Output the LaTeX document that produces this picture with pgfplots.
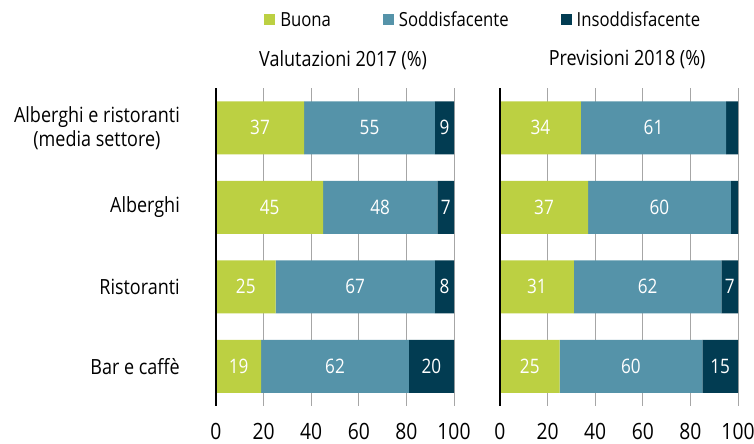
\documentclass[border=0pt]{standalone}
\usepackage{fontspec}
\setmainfont{Open Sans}[FakeStretch=0.86]
\usepackage{pgfplots}
\pgfplotsset{compat=1.18}
\definecolor{cGreen}{HTML}{BCD042}
\definecolor{cTeal}{HTML}{5593A9}
\definecolor{cDark}{HTML}{023C52}
\definecolor{cGrid}{HTML}{A6A6A6}
\pgfplotsset{
  panel/.style={
    scale only axis, width=238bp, height=318bp,
    xmin=0, xmax=100, ymin=-0.5, ymax=3.5, y dir=reverse,
    anchor=south west,
  },
  barpanel/.style={
    panel,
    xbar stacked, bar width=53bp,
    axis y line*=left, axis x line*=bottom,
    x axis line style={draw=none}, y axis line style={draw=none},
    xmajorgrids, grid style={cGrid, line width=0.9pt},
    xtick={0,20,40,60,80,100}, ytick={0,1,2,3},
    major tick length=0pt,
    xticklabel style={font=\fontsize{22.5}{22.5}\selectfont, inner sep=0pt, anchor=north, yshift=-17bp},
    /pgf/number format/assume math mode=true,
    title style={anchor=center, yshift=0pt, font=\fontsize{21}{21}\selectfont, inner sep=0pt},
  },
  overpanel/.style={panel, hide axis, clip=false},
  lab/.style={draw=none, mark=none, nodes near coords, point meta=explicit symbolic,
     every node near coord/.append style={anchor=center, text=white, font=\fontsize{20}{20}\selectfont, inner sep=0pt}},
  sqlegend/.style={legend image code/.code={\fill[##1] (0bp,-5.5bp) rectangle (11bp,5.5bp);}},
}
\begin{document}
\begin{tikzpicture}
\path[use as bounding box] (0,0) rectangle (754bp,444bp);
% ---------- left panel ----------
\begin{axis}[barpanel, at={(216bp,38bp)},
  title={Valutazioni 2017 (\%)}, title style={at={(0.534,1.07)}},
  yticklabels={{Alberghi e ristoranti\\(media settore)},Alberghi,Ristoranti,Bar e caffè},
  yticklabel style={align=center, font=\fontsize{21}{24}\selectfont, inner sep=0pt, xshift=-36bp},
  legend columns=3,
  legend style={at={(0.202,1.214)}, anchor=west, draw=none, fill=none, inner sep=0pt,
    font=\fontsize{19.5}{20}\selectfont,
    /tikz/every even column/.append style={column sep=50bp},
    /tikz/every odd column/.append style={column sep=3bp}},
]
\addplot[fill=cGreen, draw=none, sqlegend]
  coordinates {(37,0) (45,1) (25,2) (19,3)};
\addplot[fill=cTeal, draw=none, sqlegend]
  coordinates {(55,0) (48,1) (67,2) (62,3)};
\addplot[fill=cDark, draw=none, sqlegend]
  coordinates {(9,0) (7,1) (8,2) (20,3)};
\legend{Buona,Soddisfacente,Insoddisfacente}
\end{axis}
\begin{axis}[overpanel, at={(216bp,38bp)}]
\addplot[black, line width=1.3pt] coordinates {(0,-0.5) (0,3.5)};
\addplot[lab] table[meta=l] {
x y l
18.5 0 37
64.5 0 55
96 0 9
22.5 1 45
69 1 48
96.5 1 7
12.5 2 25
58.5 2 67
96 2 8
9.5 3 19
50 3 62
90.5 3 20
};
\end{axis}
% ---------- right panel ----------
\begin{axis}[barpanel, at={(500bp,38bp)},
  title={Previsioni 2018 (\%)}, title style={at={(0.534,1.07)}},
  yticklabels={},
]
\addplot[fill=cGreen, draw=none] coordinates {(34,0) (37,1) (31,2) (25,3)};
\addplot[fill=cTeal, draw=none] coordinates {(61,0) (60,1) (62,2) (60,3)};
\addplot[fill=cDark, draw=none] coordinates {(5,0) (3,1) (7,2) (15,3)};
\end{axis}
\begin{axis}[overpanel, at={(500bp,38bp)}]
\addplot[black, line width=1.3pt] coordinates {(0,-0.5) (0,3.5)};
\addplot[lab] table[meta=l] {
x y l
17 0 34
64.5 0 61
18.5 1 37
67 1 60
15.5 2 31
62 2 62
96.5 2 7
12.5 3 25
55 3 60
92.5 3 15
};
\end{axis}
\end{tikzpicture}
\end{document}
